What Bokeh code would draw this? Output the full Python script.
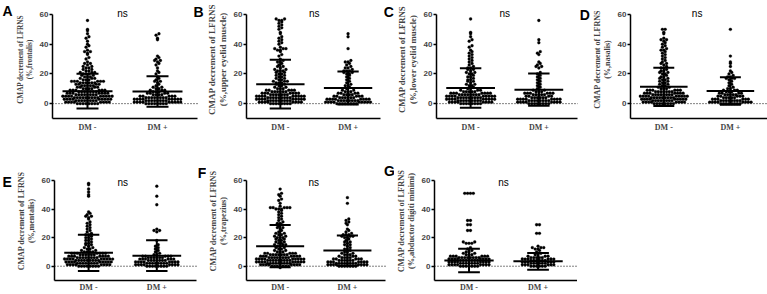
import numpy as np
from bokeh.plotting import figure
from bokeh.layouts import column, row
from bokeh.models import FixedTicker, Label
from bokeh.embed import file_html
from bokeh.resources import INLINE

# ------------------------------------------------------------------ data
group_labels = ["DM -", "DM +"]
panel_letters = ["A", "B", "C", "D", "E", "F", "G"]
muscles = ["frontalis", "upper eyelid muscle", "lower eyelid muscle", "nasalis",
           "mentalis", "trapezius", "abductor digiti minimi"]
y_label_main = "CMAP decrement of LFRNS"
sig_labels = ["ns", "ns", "ns", "ns", "ns", "ns", "ns"]
y_ticks = [0, 20, 40, 60]

A_neg = [56, 50, 49, 47, 45, 44, 42, 40, 39, 38, 36, 35, 35, 34, 33, 31, 30, 28, 27, 27, 26, 25, 25, 24, 24,
         23, 23, 22, 22, 21, 21, 21, 20, 20, 20, 19, 19, 18, 18, 18, 17, 17, 17, 16, 16, 16, 15, 15, 15, 15,
         15, 15, 14, 14, 14, 14, 14, 14, 13, 13, 13, 13, 12, 12, 12, 12, 12, 11, 11, 11, 11, 10, 10, 10, 10,
         9, 9, 9, 9, 9, 9, 8, 8, 8, 8, 8, 8, 8, 7, 7, 7, 7, 7, 7, 7, 6, 6, 6, 6, 6, 6, 6, 6, 5, 5, 5, 5, 5, 5,
         5, 5, 5, 4, 4, 4, 4, 4, 4, 4, 4, 4, 3, 3, 3, 3, 3, 3, 3, 3, 3, 2, 2, 2, 2, 2, 2, 2, 2, 1, 1, 1, 1, 1,
         1, 1, 1, 0, 0, 0, 0, 0, 0, 0, 0]
A_pos = [47, 46, 44, 43, 32, 31, 30, 29, 29, 28, 27, 26, 24, 22, 21, 20, 18, 17, 16, 15, 15, 14, 13, 12, 11,
         11, 10, 10, 9, 9, 9, 8, 8, 8, 7, 7, 7, 7, 6, 6, 6, 6, 5, 5, 5, 5, 5, 4, 4, 4, 4, 4, 4, 4, 4, 3, 3, 3,
         3, 3, 3, 3, 3, 3, 2, 2, 2, 2, 2, 2, 2, 2, 1, 1, 1, 1, 1, 1, 1, 1, 1, 0, 0, 0, 0, 0, 0, 0, 0]

B_neg = [57, 57, 56, 56, 55, 54, 53, 52, 51, 50, 48, 47, 45, 44, 43, 42, 41, 40, 38, 37, 37, 37, 36, 36, 35,
         33, 32, 30, 29, 28, 28, 27, 26, 25, 25, 24, 23, 23, 22, 22, 22, 21, 21, 20, 20, 19, 19, 18, 18, 17,
         17, 16, 16, 15, 15, 15, 14, 14, 14, 13, 13, 12, 12, 11, 11, 10, 10, 10,
         9, 9, 9, 9, 9, 8, 8, 8, 8, 8, 8, 7, 7, 7, 7, 7, 7, 7, 6, 6, 6, 6, 6, 6, 6, 5, 5, 5, 5, 5, 5, 5, 5, 5,
         4, 4, 4, 4, 4, 4, 4, 4, 4, 3, 3, 3, 3, 3, 3, 3, 3, 3, 2, 2, 2, 2, 2, 2, 2, 2, 2, 1, 1, 1, 1, 1, 1, 1,
         1, 0, 0, 0, 0, 0, 0, 0, 0]
B_pos = [47, 45, 37, 29, 28, 28, 27, 26, 25, 24, 24, 23, 22, 22, 22, 21, 21, 20, 20, 19, 18, 17, 16, 15, 14,
         13, 12, 12, 11, 10, 9, 9, 8, 8, 8, 7, 7, 7, 7, 6, 6, 6, 6, 5, 5, 5, 5, 5, 4, 4, 4, 4, 4, 4, 3, 3, 3,
         3, 3, 3, 3, 3, 2, 2, 2, 2, 2, 2, 2, 2, 1, 1, 1, 1, 1, 1, 1, 1, 1, 0, 0, 0, 0, 0, 0, 0, 0]

C_neg = [57, 48, 47, 45, 43, 42, 39, 38, 36, 35, 34, 33, 32, 31, 30, 29, 28, 27, 26, 25, 24, 24, 23, 23, 22,
         21, 21, 20, 20, 19, 18, 18, 17, 16, 16, 15, 15, 14, 13, 13, 12, 12, 11, 10, 10,
         9, 9, 9, 8, 8, 8, 8, 8, 7, 7, 7, 7, 7, 7, 7, 6, 6, 6, 6, 6, 6, 6, 6, 5, 5, 5, 5, 5, 5, 5, 5, 5, 4, 4,
         4, 4, 4, 4, 4, 4, 4, 3, 3, 3, 3, 3, 3, 3, 3, 3, 2, 2, 2, 2, 2, 2, 2, 2, 2, 1, 1, 1, 1, 1, 1, 1, 1, 0,
         0, 0, 0, 0, 0, 0, 0]
C_pos = [56, 43, 41, 35, 34, 33, 28, 27, 26, 25, 25, 24, 21, 20, 19, 18, 17, 16, 15, 14, 13, 12, 11, 10, 9,
         9, 8, 8, 8, 7, 7, 7, 7, 7, 7, 6, 6, 6, 6, 6, 5, 5, 5, 5, 4, 4, 4, 4, 4, 4, 3, 3, 3, 3, 3, 3, 3, 3, 2,
         2, 2, 2, 2, 2, 2, 2, 1, 1, 1, 1, 1, 1, 1, 1, 0, 0, 0, 0, 0, 0, 0, 0]

D_neg = [50, 50, 48, 47, 44, 43, 43, 42, 41, 40, 39, 38, 37, 36, 36, 35, 34, 33, 32, 31, 30, 29, 28, 27, 27,
         26, 25, 24, 24, 23, 22, 22, 21, 21, 20, 20, 19, 18, 18, 17, 17, 16, 16, 15, 15, 14, 14, 13, 13, 12,
         12, 11, 11, 10, 10, 10,
         9, 9, 9, 9, 9, 9, 8, 8, 8, 8, 8, 8, 8, 7, 7, 7, 7, 7, 7, 7, 6, 6, 6, 6, 6, 6, 6, 6, 5, 5, 5, 5, 5, 5,
         5, 5, 5, 4, 4, 4, 4, 4, 4, 4, 4, 4, 3, 3, 3, 3, 3, 3, 3, 3, 3, 2, 2, 2, 2, 2, 2, 2, 2, 1, 1, 1, 1, 1,
         1, 1, 1, 0, 0, 0, 0, 0, 0, 0, 0]
D_pos = [50, 32, 28, 27, 25, 22, 21, 20, 19, 18, 18, 17, 17, 17, 16, 15, 14, 13, 12, 11, 10, 10, 9, 9, 9, 8,
         8, 8, 7, 7, 7, 7, 6, 6, 6, 6, 6, 5, 5, 5, 5, 5, 4, 4, 4, 4, 4, 3, 3, 3, 3, 3, 3, 2, 2, 2, 2, 2, 2, 2,
         2, 1, 1, 1, 1, 1, 1, 1, 1, 0, 0, 0, 0, 0, 0, 0, 0]

E_neg = [58, 57, 54, 52, 50, 49, 38, 37, 36, 35, 35, 34, 33, 31, 30, 29, 28, 27, 26, 25, 24, 23, 22, 22, 21,
         20, 20, 19, 18, 18, 17, 16, 16, 15, 15, 14, 13, 13, 12, 12, 11, 11, 10, 10, 10, 10,
         9, 9, 9, 9, 9, 9, 9, 8, 8, 8, 8, 8, 8, 7, 7, 7, 7, 7, 7, 7, 6, 6, 6, 6, 6, 6, 6, 6, 5, 5, 5, 5, 5, 5,
         5, 5, 5, 4, 4, 4, 4, 4, 4, 4, 4, 4, 3, 3, 3, 3, 3, 3, 3, 3, 3, 2, 2, 2, 2, 2, 2, 2, 2, 1, 1, 1, 1, 1,
         1, 1, 1, 0, 0, 0, 0, 0, 0, 0, 0]
E_pos = [56, 49, 43, 26, 25, 25, 24, 18, 15, 14, 13, 12, 11, 10, 9, 8, 8, 7, 7, 7, 7, 7, 6, 6, 6, 6, 6, 6, 5,
         5, 5, 5, 5, 5, 4, 4, 4, 4, 4, 4, 4, 3, 3, 3, 3, 3, 3, 3, 3, 2, 2, 2, 2, 2, 2, 2, 2, 1, 1, 1, 1, 1, 1,
         1, 1, 0, 0, 0, 0, 0, 0, 0, 0]

F_neg = [54, 51, 50, 49, 47, 46, 44, 42, 41, 41, 41, 41, 41, 40, 40, 40, 39, 38, 37, 36, 35, 34, 33, 32, 31,
         30, 30, 29, 28, 27, 27, 26, 25, 24, 23, 23, 22, 22, 21, 21, 20, 20, 20, 19, 19, 18, 18, 17, 17, 16,
         16, 15, 15, 15, 14, 14, 13, 13, 12, 12, 11, 11, 10, 10, 10,
         9, 9, 9, 9, 9, 8, 8, 8, 8, 8, 8, 8, 7, 7, 7, 7, 7, 7, 7, 6, 6, 6, 6, 6, 6, 6, 6, 5, 5, 5, 5, 5, 5, 5,
         5, 5, 4, 4, 4, 4, 4, 4, 4, 4, 4, 3, 3, 3, 3, 3, 3, 3, 3, 3, 2, 2, 2, 2, 2, 2, 2, 2, 2, 1, 1, 1, 1, 1,
         1, 1, 1, 0, 0, 0, 0, 0, 0, 0, -1]
F_pos = [48, 44, 33, 32, 31, 30, 29, 26, 25, 24, 23, 22, 22, 22, 21, 21, 21, 20, 20, 19, 18, 17, 17, 16, 15,
         15, 14, 13, 12, 12, 11, 10, 10, 9, 9, 8, 8, 8, 7, 7, 7, 6, 6, 6, 6, 5, 5, 5, 5, 5, 4, 4, 4, 4, 4, 4,
         3, 3, 3, 3, 3, 3, 3, 2, 2, 2, 2, 2, 2, 2, 2, 1, 1, 1, 1, 1, 1, 1, 1, 0, 0, 0, 0, 0, 0, 0]

G_neg = [51, 51, 51, 51, 32, 32, 29, 29, 25, 25, 17, 16, 16, 16, 17, 13, 12, 11, 10, 10, 9, 9, 8, 8, 8, 7, 7,
         7, 7, 7, 7, 6, 6, 6, 6, 6, 6, 6, 6, 5, 5, 5, 5, 5, 5, 5, 5, 4, 4, 4, 4, 4, 4, 4, 3, 3, 3, 3, 3, 3, 3,
         3, 2, 2, 2, 2, 2, 2, 2, 1, 1, 1, 1, 1, 1, 1, 1, 0, 0, 0, 0, 0, 0, 0]
G_pos = [29, 29, 23, 23, 14, 13, 13, 13, 12, 12, 11, 10, 9, 8, 8, 7, 7, 7, 6, 6, 6, 6, 6, 5, 5, 5, 5, 5, 5, 4,
         4, 4, 4, 4, 4, 3, 3, 3, 3, 3, 3, 2, 2, 2, 2, 2, 2, 1, 1, 1, 1, 1, 1, 0, 0, 0, 0, 0, 0]

values_neg = [A_neg, B_neg, C_neg, D_neg, E_neg, F_neg, G_neg]
values_pos = [A_pos, B_pos, C_pos, D_pos, E_pos, F_pos, G_pos]

# mean and SD as drawn
mean_neg = [8.4, 13.1, 10.6, 11.3, 9.4, 14.0, 4.0]
sd_neg = [11.7, 16.4, 13.3, 12.9, 12.7, 14.8, 8.3]
mean_pos = [8.2, 10.6, 9.4, 8.5, 7.4, 11.0, 3.4]
sd_pos = [10.3, 11.1, 10.9, 9.2, 10.8, 10.5, 5.9]

# ------------------------------------------------------------------ layout (page pixels)
FIG_H = 147
# per row: frame top (fig px), px per y unit, y of value 60 (fig px), ns vertical centre (fig px)
ROWS = {1: dict(top=0, ppu=104 / 70.0, y60=14, ns=12.5),
        2: dict(top=14, ppu=100 / 70.0, y60=33, ns=34.5)}
LETTER_W = 14
# panel: row, fig left, fig width, frame left (page), x-axis end (page), y-label font px
panel_layout = [
    (1, 14, 190, 52, 197, 7.2),
    (1, 204, 190, 241, 380, 9.0),
    (1, 394, 196, 432, 577, 8.7),
    (1, 590, 177, 623, 767, 8.0),
    (2, 14, 192, 50, 196, 8.0),
    (2, 206, 188, 240, 385, 8.2),
    (2, 394, 183, 432, 577, 8.3),
]
# panel letter positions (page x of left edge, y of top within the row)
letter_pos = [(2, 3), (193, 3), (383, 3), (579, 6), (2, 16), (197, 17), (383, 15)]
PPU_X = 70.0
DOT_PX = 2.9
MEAN_HALF_PX = 25
CAP_HALF_PX = 11
Y_MIN = -10
Y_AXIS_TOP = 60


def swarm(vals, center):
    vals = sorted(vals)
    bins = {}
    for v in vals:
        bins.setdefault(int(np.floor(v / 2.0 + 1e-9)), []).append(v)
    dx = DOT_PX / PPU_X
    xs, ys = [], []
    for b in sorted(bins):
        vs = bins[b]
        n = len(vs)
        offs = sorted([(k - (n - 1) / 2.0) for k in range(n)], key=lambda o: (abs(o), o))
        for o, v in zip(offs, vs):
            xs.append(center + o * dx)
            ys.append(v)
    return xs, ys


def letter_label(text, x, y):
    return Label(x=x, y=y, text=text, text_font="Liberation Sans", text_font_style="bold",
                 text_font_size="14px", text_align="left", text_baseline="top", text_color="black")


def make_panel(i):
    rown, fx, fw, frame_left, axis_end, lfs = panel_layout[i]
    R = ROWS[rown]
    bl = frame_left - fx
    frame_w = fw - bl
    x0 = 0.5
    x1 = x0 + frame_w / PPU_X
    ppu = R["ppu"]
    y_top = Y_AXIS_TOP + (R["y60"] - R["top"]) / ppu
    frame_h = (y_top - Y_MIN) * ppu
    bottom = FIG_H - R["top"] - frame_h
    p = figure(width=fw, height=FIG_H, x_range=(x0, x1), y_range=(Y_MIN, y_top),
               output_backend="svg", toolbar_location=None,
               min_border=0, min_border_left=bl, min_border_right=0,
               min_border_top=R["top"], min_border_bottom=int(round(bottom)))
    p.outline_line_color = None
    p.xgrid.visible = False
    p.ygrid.visible = False
    p.background_fill_color = "white"
    p.border_fill_color = "white"
    x_axis_end = x0 + (axis_end - frame_left) / PPU_X

    # zero reference line
    p.segment(x0=[x0], y0=[0], x1=[x_axis_end], y1=[0], line_color="black",
              line_dash="1 2", line_width=1)

    for c, vals, m, s in ((1, values_neg[i], mean_neg[i], sd_neg[i]),
                          (2, values_pos[i], mean_pos[i], sd_pos[i])):
        xs, ys = swarm(vals, c)
        p.scatter(xs, ys, marker="circle", size=DOT_PX, fill_color="black",
                  line_color="black", line_width=0.3)
        mh = MEAN_HALF_PX / PPU_X
        ch = CAP_HALF_PX / PPU_X
        p.segment(x0=[c - mh, c - ch, c - ch, c], y0=[m, m + s, m - s, m - s],
                  x1=[c + mh, c + ch, c + ch, c], y1=[m, m + s, m - s, m + s],
                  line_color="black", line_width=2)

    # axes
    xa = p.xaxis[0]
    xa.ticker = FixedTicker(ticks=[1, 2])
    xa.bounds = (x0, x_axis_end)
    xa.major_label_overrides = {1: group_labels[0], 2: group_labels[1]}
    xa.major_tick_line_color = None
    xa.major_tick_out = 0
    xa.major_tick_in = 0
    xa.minor_tick_line_color = None
    xa.axis_line_width = 1.5
    xa.major_label_text_font = "Liberation Serif"
    xa.major_label_text_font_style = "bold"
    xa.major_label_text_font_size = "8px"
    xa.major_label_standoff = 4 if rown == 1 else 2

    ya = p.yaxis[0]
    ya.ticker = FixedTicker(ticks=y_ticks)
    ya.bounds = (Y_MIN, Y_AXIS_TOP)
    ya.minor_tick_line_color = None
    ya.major_tick_in = 0
    ya.major_tick_out = 3
    ya.major_tick_line_width = 1.5
    ya.axis_line_width = 1.5
    ya.major_label_text_font = "Liberation Sans"
    ya.major_label_text_font_style = "bold"
    ya.major_label_text_font_size = "8px"
    ya.major_label_standoff = 1
    ya.axis_label = y_label_main + "\n(%," + muscles[i] + ")"
    ya.axis_label_text_font = "Liberation Serif"
    ya.axis_label_text_font_style = "bold"
    ya.axis_label_text_font_size = "%.1fpx" % lfs
    ya.axis_label_text_line_height = 1.05
    ya.axis_label_standoff = 3

    # significance text
    ns_y = Y_AXIS_TOP + (R["y60"] - R["ns"]) / ppu
    p.add_layout(Label(x=1.5, y=ns_y, text=sig_labels[i], text_font="Liberation Sans",
                       text_font_size="10px", text_align="center", text_baseline="middle",
                       text_color="black"))
    p._geom = dict(fx=fx, fw=fw, frame_left=frame_left, x0=x0, y_top=y_top, top=R["top"], ppu=ppu,
                   row=rown)
    return p


def make_letter_fig():
    q = figure(width=LETTER_W, height=FIG_H, x_range=(0, LETTER_W), y_range=(0, FIG_H),
               output_backend="svg", toolbar_location=None, min_border=0)
    q.axis.visible = False
    q.xgrid.visible = False
    q.ygrid.visible = False
    q.outline_line_color = None
    return q


panels = [make_panel(i) for i in range(7)]
lead = {1: make_letter_fig(), 2: make_letter_fig()}

# put each panel letter in whichever frame holds its position
for i, (lx, ly) in enumerate(letter_pos):
    rown = panel_layout[i][0]
    placed = False
    for p in panels:
        g = p._geom
        if g["row"] != rown:
            continue
        if g["frame_left"] <= lx < g["fx"] + g["fw"]:
            x = g["x0"] + (lx - g["frame_left"]) / PPU_X
            y = g["y_top"] - (ly - g["top"]) / g["ppu"]
            p.add_layout(letter_label(panel_letters[i], x, y))
            placed = True
            break
    if not placed:
        lead[rown].add_layout(letter_label(panel_letters[i], lx, FIG_H - ly))

for p in panels:
    del p._geom

layout = column(row(lead[1], *panels[:4]), row(lead[2], *panels[4:]))

with open("out.html", "w") as f:
    f.write(file_html(layout, INLINE))
